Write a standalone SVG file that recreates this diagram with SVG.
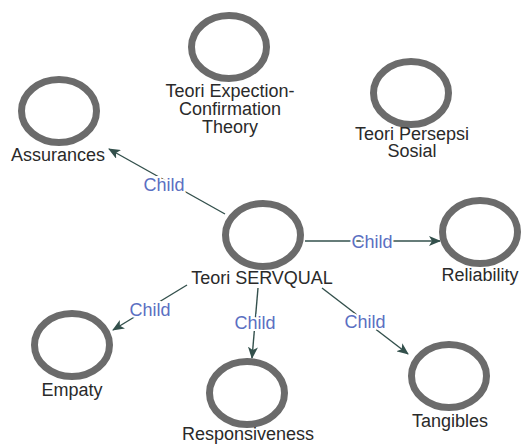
<svg xmlns="http://www.w3.org/2000/svg" width="522" height="446" viewBox="0 0 522 446">
<style>
.n{fill:#fff;stroke:#6b6b6b;stroke-width:7}
.t{font-family:"Liberation Sans",Arial,sans-serif;font-size:18px;fill:#2a2a2a;text-anchor:middle}
.e{stroke:#33504c;stroke-width:1.4;fill:none;marker-end:url(#a)}
.l{font-family:"Liberation Sans",Arial,sans-serif;font-size:18px;fill:#5b6fc2;text-anchor:middle;stroke:#fff;stroke-width:4;paint-order:stroke}
</style>
<defs>
<marker id="a" viewBox="0 0 12 10" refX="11" refY="5" markerWidth="12" markerHeight="10" markerUnits="userSpaceOnUse" orient="auto">
<path d="M0,0 L12,5 L0,10 L3,5 Z" fill="#33504c"/>
</marker>
</defs>
<rect width="522" height="446" fill="#fff"/>
<g id="connectors">
<line class="e" x1="225" y1="214" x2="109" y2="149"/>
<line class="e" x1="305" y1="241" x2="440" y2="241"/>
<line class="e" x1="187" y1="285" x2="113" y2="330"/>
<line class="e" x1="258" y1="288" x2="252" y2="358"/>
<line class="e" x1="322" y1="288" x2="408" y2="354"/>
<text class="l" x="164" y="191">Child</text>
<text class="l" x="372" y="248">Child</text>
<text class="l" x="150" y="316">Child</text>
<text class="l" x="255" y="329">Child</text>
<text class="l" x="365" y="328">Child</text>
</g>
<g id="expectation">
<ellipse class="n" cx="229" cy="47" rx="37.5" ry="31.5"/>
<text class="t" x="230" y="97">Teori Expection-</text>
<text class="t" x="230" y="115">Confirmation</text>
<text class="t" x="230" y="133">Theory</text>
</g>
<g id="assurances">
<ellipse class="n" cx="59" cy="111" rx="37.5" ry="31.5"/>
<text class="t" x="58" y="161">Assurances</text>
</g>
<g id="persepsi">
<ellipse class="n" cx="411" cy="93" rx="37.5" ry="31.5"/>
<text class="t" x="412" y="140">Teori Persepsi</text>
<text class="t" x="412" y="157">Sosial</text>
</g>
<g id="servqual">
<ellipse class="n" cx="263" cy="235" rx="37.5" ry="31.5"/>
<text class="t" x="262" y="284">Teori SERVQUAL</text>
</g>
<g id="reliability">
<ellipse class="n" cx="480" cy="232" rx="37.5" ry="31.5"/>
<text class="t" x="480" y="281">Reliability</text>
</g>
<g id="empaty">
<ellipse class="n" cx="72" cy="345" rx="37.5" ry="31.5"/>
<text class="t" x="72" y="396">Empaty</text>
</g>
<g id="responsiveness">
<ellipse class="n" cx="247" cy="393" rx="37.5" ry="31.5"/>
<text class="t" x="248" y="440">Responsiveness</text>
</g>
<g id="tangibles">
<ellipse class="n" cx="449" cy="376" rx="37.5" ry="31.5"/>
<text class="t" x="450" y="427">Tangibles</text>
</g>
</svg>
